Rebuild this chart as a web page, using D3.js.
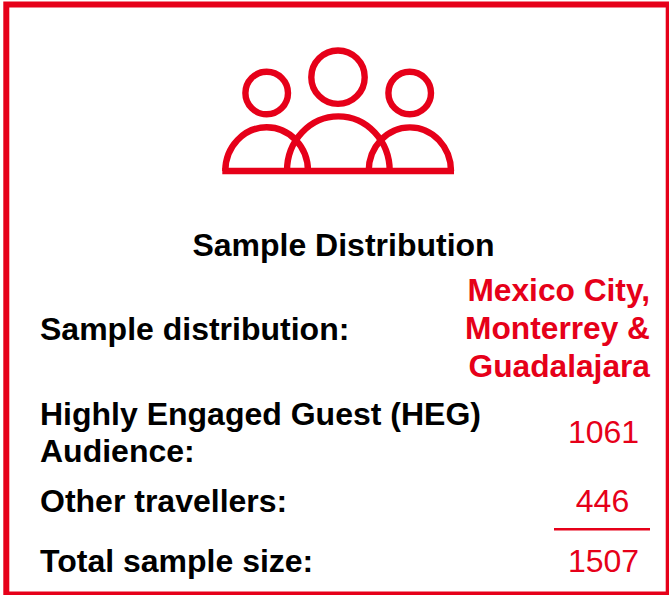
<!DOCTYPE html>
<html><head><meta charset="utf-8">
<style>html,body{margin:0;padding:0;background:#fff}svg{display:block}</style>
<script src="https://cdn.jsdelivr.net/npm/d3@7"></script></head>
<body><svg id="c" width="669" height="595"></svg>
<script>
const title = "Sample Distribution";
const rowLabels = [["Sample distribution:"],["Highly Engaged Guest (HEG)","Audience:"],["Other travellers:"],["Total sample size:"]];
const rowValues = [["Mexico City,","Monterrey &","Guadalajara"],["1061"],["446"],["1507"]];
const valueBold = [true,false,false,false];
const labelY = [[329],[414,451],[501],[561]];
const valueY = [[290,328,366],[432],[501],[561]];
const valueX = [650,603.5,602.5,603.5];
const valueAnchor = ["end","middle","middle","middle"];
const heads = [{x:266.7,y:93,r:21.3},{x:338,y:77.2,r:26.7},{x:409.7,y:93,r:21.3}];
const bodies = [{x0:225.3,x1:308,top:127.3},{x0:287,x1:389.7,top:116.3},{x0:368.7,x1:451,top:127.3}];
const red = "#e60019";
const svg = d3.select("#c");
svg.append("rect").attr("x",6.3).attr("y",4.5).attr("width",662.4).attr("height",590).attr("fill","#fff").attr("stroke",red).attr("stroke-width",6);
const baseY=171;
const g=svg.append("g").attr("fill","none").attr("stroke",red).attr("stroke-width",6.4);
g.selectAll("circle").data(heads).join("circle").attr("cx",d=>d.x).attr("cy",d=>d.y).attr("r",d=>d.r);
g.selectAll("path").data(bodies).join("path").attr("d",d=>{const rx=(d.x1-d.x0)/2,ry=baseY-d.top;return `M${d.x0},${baseY}A${rx},${ry} 0 0 1 ${d.x1},${baseY}`});
g.append("line").attr("x1",222.3).attr("x2",454).attr("y1",baseY).attr("y2",baseY).attr("stroke-width",6.6);
const font="Liberation Sans, Arial, sans-serif";
svg.append("text").text(title).attr("x",343.5).attr("y",245).attr("dy","0.35em").attr("text-anchor","middle").attr("font-family",font).attr("font-size",32).attr("font-weight",700).attr("fill","#000");
rowLabels.forEach((ls,i)=>ls.forEach((t,j)=>{
 svg.append("text").text(t).attr("x",40).attr("y",labelY[i][j]).attr("dy","0.35em").attr("font-family",font).attr("font-size",32).attr("font-weight",700).attr("fill","#000");
}));
rowValues.forEach((ls,i)=>ls.forEach((t,j)=>{
 svg.append("text").text(t).attr("x",valueX[i]).attr("y",valueY[i][j]).attr("dy","0.35em").attr("text-anchor",valueAnchor[i]).attr("font-family",font).attr("font-size",valueBold[i]?31.7:32).attr("font-weight",valueBold[i]?700:400).attr("fill",red);
}));
svg.append("line").attr("x1",554).attr("x2",650).attr("y1",529.3).attr("y2",529.3).attr("stroke",red).attr("stroke-width",2.5);
</script></body></html>
